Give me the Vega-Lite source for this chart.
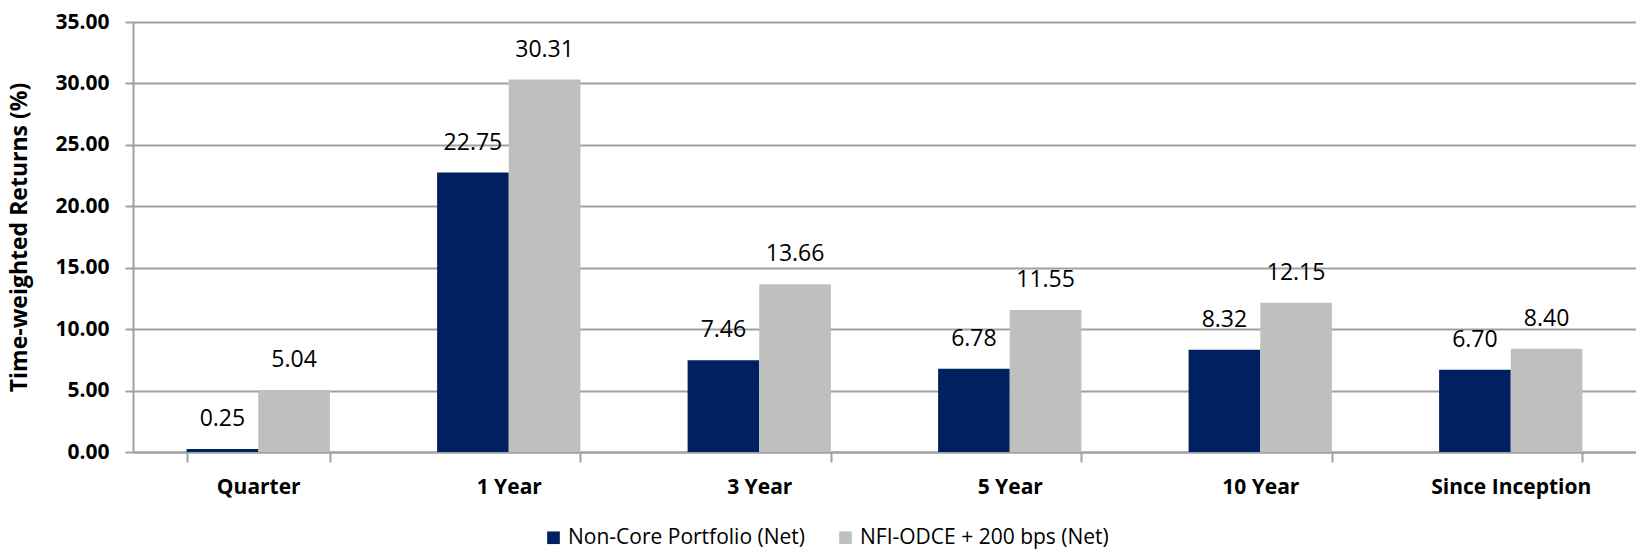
{
  "$schema": "https://vega.github.io/schema/vega-lite/v6.json",
  "width": 1503,
  "height": 430,
  "autosize": {"type": "none"},
  "padding": {"left": 133, "top": 22, "right": 0, "bottom": 100},
  "background": "white",
  "config": {
    "view": {"stroke": null},
    "font": "Open Sans",
    "axis": {"labelFont": "Open Sans", "titleFont": "Open Sans"}
  },
  "data": {
    "values": [
      {"period": "Quarter", "series": "Non-Core Portfolio (Net)", "value": 0.25},
      {"period": "Quarter", "series": "NFI-ODCE + 200 bps (Net)", "value": 5.04},
      {"period": "1 Year", "series": "Non-Core Portfolio (Net)", "value": 22.75},
      {"period": "1 Year", "series": "NFI-ODCE + 200 bps (Net)", "value": 30.31},
      {"period": "3 Year", "series": "Non-Core Portfolio (Net)", "value": 7.46},
      {"period": "3 Year", "series": "NFI-ODCE + 200 bps (Net)", "value": 13.66},
      {"period": "5 Year", "series": "Non-Core Portfolio (Net)", "value": 6.78},
      {"period": "5 Year", "series": "NFI-ODCE + 200 bps (Net)", "value": 11.55},
      {"period": "10 Year", "series": "Non-Core Portfolio (Net)", "value": 8.32},
      {"period": "10 Year", "series": "NFI-ODCE + 200 bps (Net)", "value": 12.15},
      {"period": "Since Inception", "series": "Non-Core Portfolio (Net)", "value": 6.70},
      {"period": "Since Inception", "series": "NFI-ODCE + 200 bps (Net)", "value": 8.40}
    ]
  },
  "encoding": {
    "x": {
      "field": "period",
      "type": "nominal",
      "sort": ["Quarter", "1 Year", "3 Year", "5 Year", "10 Year", "Since Inception"],
      "scale": {"paddingInner": 0.428, "paddingOuter": 0.214},
      "axis": {
        "title": null,
        "labelAngle": 0,
        "labelFontSize": 21,
        "labelFontWeight": "bold",
        "labelColor": "#000000",
        "labelPadding": 14,
        "domainColor": "#a0a0a0",
        "domainWidth": 2,
        "tickColor": "#a0a0a0",
        "tickWidth": 2,
        "tickSize": 10,
        "tickBand": "extent",
        "grid": false
      }
    },
    "xOffset": {
      "field": "series",
      "type": "nominal",
      "sort": ["Non-Core Portfolio (Net)", "NFI-ODCE + 200 bps (Net)"],
      "scale": {"paddingInner": 0, "paddingOuter": 0}
    },
    "y": {
      "field": "value",
      "type": "quantitative",
      "scale": {"domain": [0, 35], "nice": false},
      "axis": {
        "title": "Time-weighted Returns (%)",
        "titleFontSize": 23,
        "titleFontWeight": "bold",
        "titleColor": "#000000",
        "titleX": -114,
        "titleY": 215,
        "titleBaseline": "middle",
        "values": [0, 5, 10, 15, 20, 25, 30, 35],
        "format": ".2f",
        "labelFontSize": 21,
        "labelFontWeight": "bold",
        "labelColor": "#000000",
        "labelPadding": 16,
        "domainColor": "#a0a0a0",
        "domainWidth": 2,
        "tickColor": "#a0a0a0",
        "tickWidth": 2,
        "tickSize": 8,
        "grid": true,
        "gridColor": "#a0a0a0",
        "gridWidth": 2
      }
    }
  },
  "layer": [
    {
      "mark": {"type": "bar"},
      "encoding": {
        "color": {
          "field": "series",
          "type": "nominal",
          "sort": ["Non-Core Portfolio (Net)", "NFI-ODCE + 200 bps (Net)"],
          "scale": {
            "domain": ["Non-Core Portfolio (Net)", "NFI-ODCE + 200 bps (Net)"],
            "range": ["#002060", "#bfbfbf"]
          },
          "legend": {
            "title": null,
            "orient": "none",
            "direction": "horizontal",
            "legendX": 410,
            "legendY": 505,
            "symbolType": "square",
            "symbolSize": 160,
            "symbolStrokeWidth": 0,
            "labelFontSize": 21,
            "labelFont": "Open Sans",
            "labelColor": "#000000",
            "labelOffset": 4,
            "columnPadding": 30,
            "labelLimit": 400
          }
        }
      }
    },
    {
      "mark": {"type": "text", "baseline": "middle", "align": "center", "dy": -30, "fontSize": 23, "font": "Open Sans", "color": "#000000"},
      "encoding": {
        "text": {"field": "value", "type": "quantitative", "format": ".2f"}
      }
    }
  ]
}
